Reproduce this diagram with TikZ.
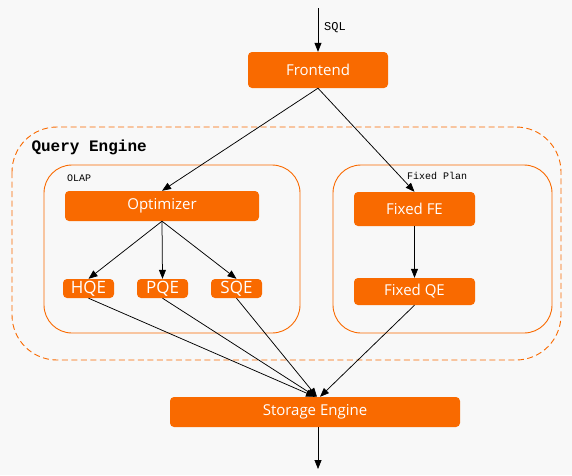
\documentclass[tikz,border=0pt]{standalone}
\usepackage{fontspec}
\setmainfont{Open Sans}
\newfontfamily\monof{Liberation Mono}
\usetikzlibrary{arrows.meta}
\definecolor{org}{HTML}{F96A00}
\definecolor{bg}{HTML}{F8F8F8}
\begin{document}
\begin{tikzpicture}[x=1pt,y=-1pt,
  box/.style={fill=org, rounded corners=4pt, text=white, font=\fontsize{15}{17}\selectfont, inner sep=0pt},
  sbox/.style={box, font=\fontsize{17}{19}\selectfont},
  arr/.style={-{Triangle[length=9pt,width=7pt]}, line width=0.75pt, black},
  cont/.style={draw=org, line width=0.9pt},
]
\fill[bg] (0,0) rectangle (572,475);
\useasboundingbox (0,0) rectangle (572,475);
% containers
\draw[cont, dash pattern=on 6pt off 3.5pt, rounded corners=45pt] (12,127) rectangle (561,360);
\draw[cont, rounded corners=28pt] (44,165) rectangle (300,333);
\draw[cont, rounded corners=28pt] (333,165) rectangle (552,333);
\node[anchor=west, font=\monof\bfseries\fontsize{16}{18}\selectfont] (qe) at (28,147) {Query Engine};
\node[anchor=west, font=\monof\fontsize{10}{12}\selectfont, inner sep=0pt] (olap) at (67,178) {OLAP};
\node[anchor=west, font=\monof\fontsize{10}{12}\selectfont, inner sep=0pt] (fp) at (407,176) {Fixed Plan};
% boxes
\node[box, minimum width=140pt, minimum height=36pt] (fe) at (318,70) {Frontend};
\node[box, minimum width=194pt, minimum height=30pt] (opt) at (162,206) {Optimizer};
\node[sbox, minimum width=51pt, minimum height=19pt] (hqe) at (88.5,288.5) {HQE};
\node[sbox, minimum width=51pt, minimum height=19pt] (pqe) at (162.5,288.5) {PQE};
\node[sbox, minimum width=51pt, minimum height=19pt] (sqe) at (236.5,288.5) {SQE};
\node[box, minimum width=121pt, minimum height=34pt] (ffe) at (414.5,209) {Fixed FE};
\node[box, minimum width=121pt, minimum height=27pt] (fqe) at (414.5,291.5) {Fixed QE};
\node[box, minimum width=290pt, minimum height=30pt] (se) at (315,412) {Storage Engine};
% coordinates
\coordinate (in) at (318,8);
\coordinate (out) at (318,469);
\node[anchor=west, font=\monof\fontsize{12}{14}\selectfont, inner sep=0pt] (sql) at (324,28) {SQL};
% arrows
\draw[arr] (in) -- (fe.north -| in);
\draw[arr] (fe.south -| in) -- (opt.north);
\draw[arr] (fe.south -| in) -- (ffe.north);
\draw[arr] (opt.south) -- (hqe.north);
\draw[arr] (opt.south) -- (pqe.north);
\draw[arr] (opt.south) -- (sqe.north);
\draw[arr] (ffe.south) -- (fqe.north);
\draw[arr] (hqe.south) -- ([xshift=-3pt]se.north -| out);
\draw[arr] (pqe.south) -- ([xshift=-2pt]se.north -| out);
\draw[arr] (sqe.south) -- ([xshift=-1pt]se.north -| out);
\draw[arr] (fqe.south) -- ([xshift=2pt]se.north -| out);
\draw[arr] (se.south -| out) -- (out);
\end{tikzpicture}
\end{document}
